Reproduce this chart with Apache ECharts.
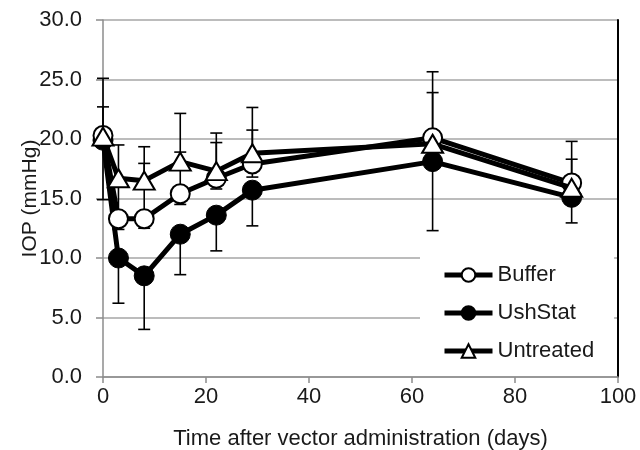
<!DOCTYPE html>
<html>
<head>
<meta charset="utf-8">
<script src="https://cdn.jsdelivr.net/npm/echarts@6/dist/echarts.min.js"></script>
<style>
html,body{margin:0;padding:0;background:#fff;}
#chart{width:640px;height:450px;}
</style>
</head>
<body>
<div id="chart"></div>
<script>
// ---- data ----
var days = [0, 3, 8, 15, 22, 29, 64, 91];
var xTicks = [0, 20, 40, 60, 80, 100];
var yTicks = [0, 5, 10, 15, 20, 25, 30];

var buffer    = [20.3, 13.3, 13.3, 15.4, 16.7, 17.9, 20.1, 16.3];
var ushStat   = [19.9, 10.0, 8.5, 12.0, 13.6, 15.7, 18.1, 15.1];
var untreated = [20.2, 16.7, 16.5, 18.1, 17.3, 18.8, 19.6, 15.9];

var bufferPlus     = [2.4, 3.3, 4.65, 3.5, 3.0, 2.85, 3.8, 2.0];
var bufferMinus    = [0.5, 0.9, 0.8, 0.9, 0.9, 1.1, 0.5, 0.5];
var ushStatPlus    = [0, 0, 0, 0, 0, 0, 0, 0];
var ushStatMinus   = [5.0, 3.8, 4.5, 3.4, 3.0, 3.0, 5.8, 2.15];
var untreatedPlus  = [4.9, 2.8, 2.85, 4.05, 3.2, 3.85, 6.05, 3.9];
var untreatedMinus = [0, 0, 0, 0, 0, 0, 0, 0];

var seriesNames = ['Buffer', 'UshStat', 'Untreated'];

function pts(vals) { return days.map(function (d, i) { return [d, vals[i]]; }); }
function errPts(vals, plus, minus) {
  return days.map(function (d, i) { return [d, vals[i], plus[i], minus[i]]; });
}

var FONT = 'Liberation Sans, Arial, sans-serif';
var TXT = '#1a1a1a';
var FS = 22;

function renderErr(params, api) {
  var x = api.value(0), y = api.value(1), p = api.value(2), m = api.value(3);
  var top = api.coord([x, y + p]);
  var bot = api.coord([x, y - m]);
  var cap = 6;
  var st = { stroke: '#000', lineWidth: 1.6 };
  var children = [{ type: 'line', shape: { x1: top[0], y1: top[1], x2: bot[0], y2: bot[1] }, style: st }];
  if (p > 0) children.push({ type: 'line', shape: { x1: top[0] - cap, y1: top[1], x2: top[0] + cap, y2: top[1] }, style: st });
  if (m > 0) children.push({ type: 'line', shape: { x1: bot[0] - cap, y1: bot[1], x2: bot[0] + cap, y2: bot[1] }, style: st });
  return { type: 'group', children: children };
}

function errSeries(vals, plus, minus) {
  return {
    type: 'custom', renderItem: renderErr,
    data: errPts(vals, plus, minus),
    encode: { x: 0, y: 1 }, z: 1, silent: true
  };
}

var chart = echarts.init(document.getElementById('chart'), null, { renderer: 'canvas' });
chart.setOption({
  animation: false,
  backgroundColor: '#fff',
  textStyle: { fontFamily: FONT },
  grid: { left: 103, right: 22, top: 20, bottom: 73, containLabel: false, outerBoundsMode: 'none' },
  xAxis: {
    type: 'value', min: xTicks[0], max: xTicks[xTicks.length - 1], interval: 20,
    name: 'Time after vector administration (days)',
    nameLocation: 'middle', nameGap: 51, nameMoveOverlap: false,
    nameTextStyle: { fontSize: FS, color: TXT, fontFamily: FONT },
    axisLine: { lineStyle: { color: '#8c8c8c', width: 1.5 } },
    axisTick: { show: true, length: 6, lineStyle: { color: '#8c8c8c', width: 1.5 } },
    axisLabel: { fontSize: FS, color: TXT, margin: 9, fontFamily: FONT },
    splitLine: { show: false }
  },
  yAxis: [{
    type: 'value', min: yTicks[0], max: yTicks[yTicks.length - 1], interval: 5,
    name: 'IOP (mmHg)', nameLocation: 'middle', nameGap: 62, nameMoveOverlap: false,
    nameTextStyle: { fontSize: FS - 1, color: TXT, fontFamily: FONT },
    axisLine: { show: true, lineStyle: { color: '#8c8c8c', width: 1.5 } },
    axisTick: { show: true, length: 7, lineStyle: { color: '#8c8c8c', width: 1.5 } },
    axisLabel: { fontSize: FS, color: TXT, margin: 21, fontFamily: FONT,
      formatter: function (v) { return v.toFixed(1); } },
    splitLine: { show: true, lineStyle: { color: '#a6a6a6', width: 1.5 } }
  }, {
    type: 'value', position: 'right', min: yTicks[0], max: yTicks[yTicks.length - 1], interval: 5,
    axisLine: { show: true, lineStyle: { color: '#000', width: 2 } },
    axisTick: { show: false }, axisLabel: { show: false }, splitLine: { show: false }
  }],
  legend: {
    orient: 'vertical', left: 420, top: 254,
    padding: [10, 20, 10, 22],
    backgroundColor: '#fff',
    itemWidth: 48, itemHeight: 17, itemGap: 16,
    data: seriesNames,
    lineStyle: { width: 5, color: '#000' },
    textStyle: { fontSize: FS, color: TXT, fontFamily: FONT }
  },
  series: [
    errSeries(untreated, untreatedPlus, untreatedMinus),
    errSeries(buffer, bufferPlus, bufferMinus),
    errSeries(ushStat, ushStatPlus, ushStatMinus),
    {
      name: 'UshStat', type: 'line', data: pts(ushStat), z: 2,
      symbol: 'circle', symbolSize: 20,
      lineStyle: { color: '#000', width: 5 },
      itemStyle: { color: '#000', borderColor: '#000', borderWidth: 1 }
    },
    {
      name: 'Buffer', type: 'line', data: pts(buffer), z: 3,
      symbol: 'circle', symbolSize: 19,
      lineStyle: { color: '#000', width: 5 },
      itemStyle: { color: '#fff', borderColor: '#000', borderWidth: 2 }
    },
    {
      name: 'Untreated', type: 'line', data: pts(untreated), z: 4,
      symbol: 'triangle', symbolSize: [21, 18],
      lineStyle: { color: '#000', width: 5 },
      itemStyle: { color: '#fff', borderColor: '#000', borderWidth: 2 }
    }
  ]
});
</script>
</body>
</html>
